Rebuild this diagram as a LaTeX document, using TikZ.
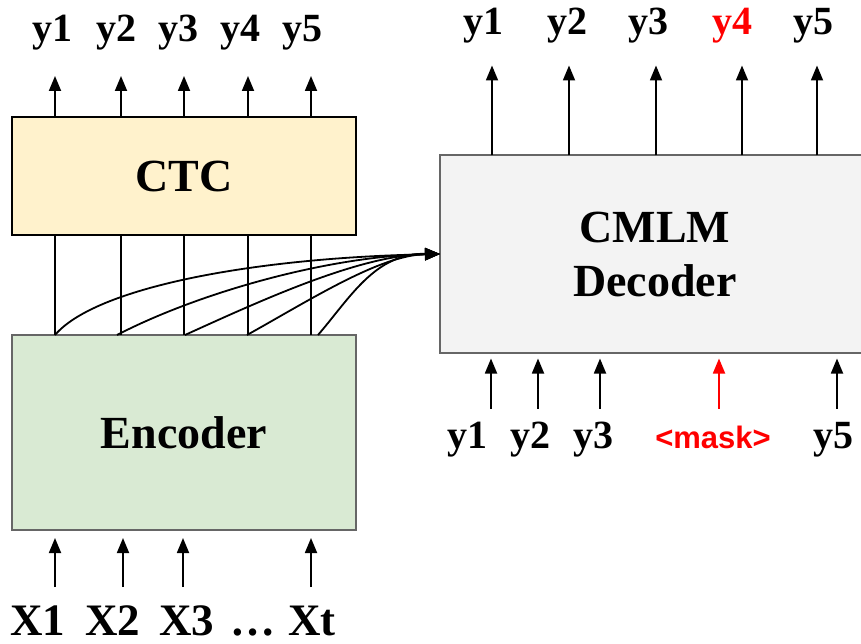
\documentclass[tikz,border=0pt]{standalone}
\usepackage{fontspec}
\setmainfont{Liberation Serif}
\newfontfamily\masksans{Liberation Sans}
\usetikzlibrary{arrows.meta}
\definecolor{ctcfill}{HTML}{FFF2CC}
\definecolor{encfill}{HTML}{D9EAD3}
\definecolor{decfill}{HTML}{F3F3F3}
\definecolor{boxgray}{HTML}{666666}
\definecolor{maskred}{HTML}{FF0000}
\begin{document}
\begin{tikzpicture}[x=1pt,y=-1pt,
  block/.style={draw, line width=2pt, rectangle, inner sep=0pt, outer sep=0pt},
  arr/.style={line width=1.8pt, -{Triangle[width=12pt,length=15pt]}},
  link/.style={line width=1.8pt},
  lab/.style={font=\fontsize{40}{44}\selectfont\bfseries, anchor=base, inner sep=0pt},
  xlab/.style={font=\fontsize{45}{48}\selectfont\bfseries, anchor=base, inner sep=0pt},
  title/.style={font=\fontsize{46}{54}\selectfont\bfseries, align=center}]
\useasboundingbox (0,0) rectangle (861,644);
\clip (0,0) rectangle (861,644);

% blocks
\node[block, fill=ctcfill, minimum width=344pt, minimum height=118pt, title] (ctc) at (184,176) {CTC};
\node[block, draw=boxgray, fill=encfill, minimum width=344pt, minimum height=195pt, title] (enc) at (184,432.5) {Encoder};
\node[block, draw=boxgray, fill=decfill, minimum width=430pt, minimum height=197pt, title] (dec) at (655,254) {CMLM\\Decoder};

% CTC outputs
\foreach \dx in {43,109,172,236,299}
  \draw[arr] ([xshift=\dx pt]ctc.north west) -- ++(0,-41);
\node[lab] (cy1) at (52,42) {y1};
\node[lab] (cy2) at (116,42) {y2};
\node[lab] (cy3) at (178,42) {y3};
\node[lab] (cy4) at (240,42) {y4};
\node[lab] (cy5) at (302,42) {y5};

% encoder states to CTC
\foreach \dx in {43,109,172,236,299}
  \draw[link] ([xshift=\dx pt]enc.north west) -- ([xshift=\dx pt]ctc.south west);

% encoder states to decoder
\draw[arr] ([xshift=43pt]enc.north west) .. controls (95,288) and (250,258) .. (dec.west);
\draw[arr] ([xshift=105pt]enc.north west) .. controls (200,292) and (330,256) .. (dec.west);
\draw[arr] ([xshift=173pt]enc.north west) .. controls (262,300) and (360,255) .. (dec.west);
\draw[arr] ([xshift=235pt]enc.north west) .. controls (310,300) and (380,255) .. (dec.west);
\draw[arr] ([xshift=306pt]enc.north west) .. controls (350,298) and (375,253) .. (dec.west);

% encoder inputs
\foreach \dx in {43,111,171,299}
  \draw[arr] ([xshift=\dx pt,yshift=-57pt]enc.south west) -- ([xshift=\dx pt,yshift=-8pt]enc.south west);
\node[xlab] (x1) at (38,635) {X1};
\node[xlab] (x2) at (113,635) {X2};
\node[xlab] (x3) at (187,635) {X3};
\node[xlab] (xd) at (253,635) {…};
\node[xlab] (xt) at (312,635) {Xt};

% decoder outputs
\foreach \dx in {52,129,216,302,377}
  \draw[arr] ([xshift=\dx pt]dec.north west) -- ++(0,-90);
\node[lab] (dy1) at (483,35) {y1};
\node[lab] (dy2) at (567,35) {y2};
\node[lab] (dy3) at (648,35) {y3};
\node[lab, text=maskred] (dy4) at (732,35) {y4};
\node[lab] (dy5) at (813,35) {y5};

% decoder inputs
\foreach \dx in {51,98,160,397}
  \draw[arr] ([xshift=\dx pt,yshift=-56pt]dec.south west) -- ([xshift=\dx pt,yshift=-6pt]dec.south west);
\draw[arr, draw=maskred, fill=maskred] ([xshift=279pt,yshift=-56pt]dec.south west) -- ([xshift=279pt,yshift=-6pt]dec.south west);
\node[lab] (iy1) at (467,448) {y1};
\node[lab] (iy2) at (530,448) {y2};
\node[lab] (iy3) at (593,448) {y3};
\node[lab, font=\masksans\fontsize{31}{34}\selectfont\bfseries, text=maskred] (imask) at (713,448) {<mask>};
\node[lab] (iy5) at (833,448) {y5};
\end{tikzpicture}
\end{document}
